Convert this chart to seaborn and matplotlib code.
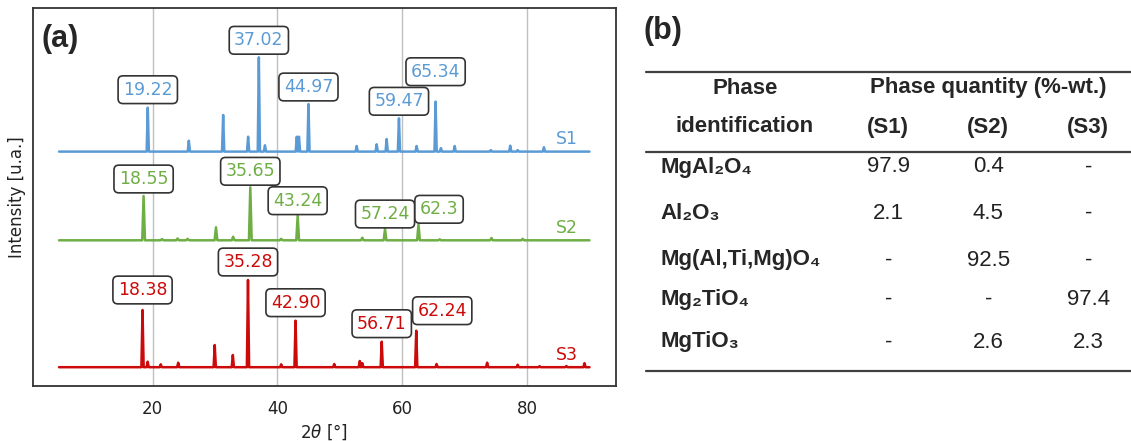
import numpy as np
import pandas as pd
import matplotlib
matplotlib.use("Agg")
import matplotlib.pyplot as plt
import seaborn as sns

# ---------------- data: XRD peaks (2theta in deg, intensity in a.u.) ----------------
s1_pos = [19.22, 25.8, 31.3, 35.3, 37.02, 38.0, 43.1, 43.45, 44.97, 52.7, 55.9, 57.5,
          59.47, 62.3, 65.34, 66.2, 68.4, 74.2, 77.3, 78.5, 82.7]
s1_int = [43.9, 10.9, 36.6, 14.9, 94.3, 6.3, 14.9, 14.9, 47.6, 5.6, 7.3, 12.6,
          33.3, 5.6, 49.9, 3.5, 5.6, 1.5, 5.9, 1.5, 4.3]

s2_pos = [18.55, 21.5, 24.0, 25.6, 30.15, 32.9, 35.65, 40.6, 43.24, 53.6, 57.24,
          62.6, 66.0, 74.3, 79.3]
s2_int = [44.3, 1.3, 1.8, 1.5, 13.0, 3.6, 53.0, 1.5, 24.6, 2.6, 11.3,
          16.0, 1.0, 2.3, 1.5]

s3_pos = [18.38, 19.2, 21.3, 24.1, 29.95, 32.85, 35.28, 40.6, 42.90, 49.1, 53.2, 53.6,
          56.71, 62.24, 65.5, 73.6, 78.5, 82.0, 86.3, 89.2]
s3_int = [57.2, 5.5, 2.9, 4.5, 22.2, 12.2, 87.2, 2.9, 46.5, 3.2, 6.2, 4.0,
          25.5, 36.5, 3.2, 4.5, 2.5, 1.0, 1.2, 4.0]

scan_range = [5.0, 90.0]

series_names = ["S1", "S2", "S3"]

# labelled peaks
s1_labels = ["19.22", "37.02", "44.97", "59.47", "65.34"]
s2_labels = ["18.55", "35.65", "43.24", "57.24", "62.3"]
s3_labels = ["18.38", "35.28", "42.90", "56.71", "62.24"]

# ---------------- data: phase quantification table ----------------
phases = ["MgAl\u2082O\u2084", "Al\u2082O\u2083", "Mg(Al,Ti,Mg)O\u2084",
          "Mg\u2082TiO\u2084", "MgTiO\u2083"]
qty_s1 = [97.9, 2.1, None, None, None]
qty_s2 = [0.4, 4.5, 92.5, None, 2.6]
qty_s3 = [None, None, None, 97.4, 2.3]

# ---------------- style ----------------
colors = {"S1": "#5b9bd5", "S2": "#6fae45", "S3": "#cc0a0a"}
offsets = {"S1": 234.4, "S2": 145.7, "S3": 18.8}
half_width = {"S1": 0.18, "S2": 0.22, "S3": 0.18}
label_dy = {"S1": [18, 17, 17, 17, 30], "S2": [17, 16, 15, 15, 15], "S3": [20, 18, 18, 18, 20]}
label_left = {"S1": [False] * 5, "S2": [False] * 4 + [True], "S3": [False] * 4 + [True]}

sns.set_theme(style="whitegrid")
plt.rcParams["font.family"] = ["DejaVu Sans"]

W, H = 1131, 441
fig = plt.figure(figsize=(W / 100, H / 100), dpi=100)
ax = fig.add_axes([32.5 / W, 1 - 386 / H, (616 - 32.5) / W, (386 - 8.3) / H])

series = {
    "S1": (s1_pos, s1_int, s1_labels),
    "S2": (s2_pos, s2_int, s2_labels),
    "S3": (s3_pos, s3_int, s3_labels),
}

frames = []
for name in series_names:
    pos, inten, _ = series[name]
    w = half_width[name]
    xs, ys = [scan_range[0]], [0.0]
    for p, h in sorted(zip(pos, inten)):
        xs += [p - w, p, p + w]
        ys += [0.0, h, 0.0]
    xs.append(scan_range[1])
    ys.append(0.0)
    frames.append(pd.DataFrame({"two_theta": xs, "intensity": np.array(ys) + offsets[name],
                                "sample": name}))
df = pd.concat(frames, ignore_index=True)

for name in series_names:
    sub = df[df["sample"] == name]
    sns.lineplot(data=sub, x="two_theta", y="intensity", color=colors[name], lw=1.8,
                 sort=False, estimator=None, ax=ax, legend=False)

# peak labels (each label sits over the nearest peak in its series)
for name in series_names:
    pos, inten, labels = series[name]
    pos_arr = np.asarray(pos)
    for i, lab in enumerate(labels):
        k = int(np.argmin(np.abs(pos_arr - float(lab))))
        px = pos[k]
        py = inten[k] + offsets[name] + label_dy[name][i]
        ha = "center"
        if label_left[name][i]:
            ha = "left"
            px = px + 0.2
        ax.text(px, py, lab, color=colors[name], fontsize=12.5, ha=ha, va="center",
                bbox=dict(boxstyle="round,pad=0.28", fc="white", ec="#333333", lw=1.2),
                zorder=5)
    ax.text(88.1, offsets[name] + 12.5, name, color=colors[name], fontsize=12.5,
            ha="right", va="center")

ax.set_xlim(0.75, 94.25)
ax.set_ylim(0, 377.7)
ax.set_yticks([])
ax.set_xticks([20, 40, 60, 80])
ax.grid(axis="y", visible=False)
ax.grid(axis="x", color="#c0c0c0", lw=1.0)
for sp in ax.spines.values():
    sp.set_color("#333333")
    sp.set_linewidth(1.3)
ax.tick_params(axis="x", labelsize=12, colors="#222222", pad=4)
ax.set_xlabel(r"$2\theta$ [°]", fontsize=12, color="#222222", labelpad=3)
ax.set_ylabel("Intensity [u.a.]", fontsize=12, color="#222222", labelpad=5)

fig.text(60 / W, 1 - 39 / H, "(a)", fontsize=22, fontweight="bold",
         family=["Liberation Sans", "DejaVu Sans"], ha="center", va="center")
fig.text(662.5 / W, 1 - 31 / H, "(b)", fontsize=22, fontweight="bold",
         family=["Liberation Sans", "DejaVu Sans"], ha="center", va="center")

# ---------------- table (b) ----------------
axb = fig.add_axes([620 / W, 0, (W - 620) / W, 1])
axb.set_xlim(620, W)
axb.set_ylim(H, 0)
axb.axis("off")

tfam = ["Liberation Sans", "DejaVu Sans"]
tsize = 16
line_kw = dict(color="#404040", lw=1.6, clip_on=False)
axb.plot([646, W], [71.7, 71.7], **line_kw)
axb.plot([646, W], [152.3, 152.3], **line_kw)
axb.plot([646, W], [370.7, 370.7], **line_kw)

col_x = [888.3, 988.3, 1088.3]
axb.text(745, 88, "Phase", fontsize=tsize, fontweight="bold", family=tfam, ha="center", va="center")
axb.text(745, 127, "identification", fontsize=tsize, fontweight="bold", family=tfam, ha="center", va="center")
axb.text(988.3, 88, "Phase quantity (%-wt.)", fontsize=tsize, fontweight="bold", family=tfam,
         ha="center", va="center")
for cx, nm in zip(col_x, series_names):
    axb.text(cx, 127, f"({nm})", fontsize=tsize, fontweight="bold", family=tfam, ha="center", va="center")

row_y = [167, 213.5, 260, 299.5, 342]
for ry, ph, a, b, c in zip(row_y, phases, qty_s1, qty_s2, qty_s3):
    axb.text(660, ry, ph, fontsize=tsize, fontweight="bold", family=tfam, ha="left", va="center")
    for cx, v in zip(col_x, (a, b, c)):
        axb.text(cx, ry, "-" if v is None else f"{v:.1f}", fontsize=tsize, family=tfam,
                 ha="center", va="center", color="#222222")

fig.savefig("out.png", dpi=100)
